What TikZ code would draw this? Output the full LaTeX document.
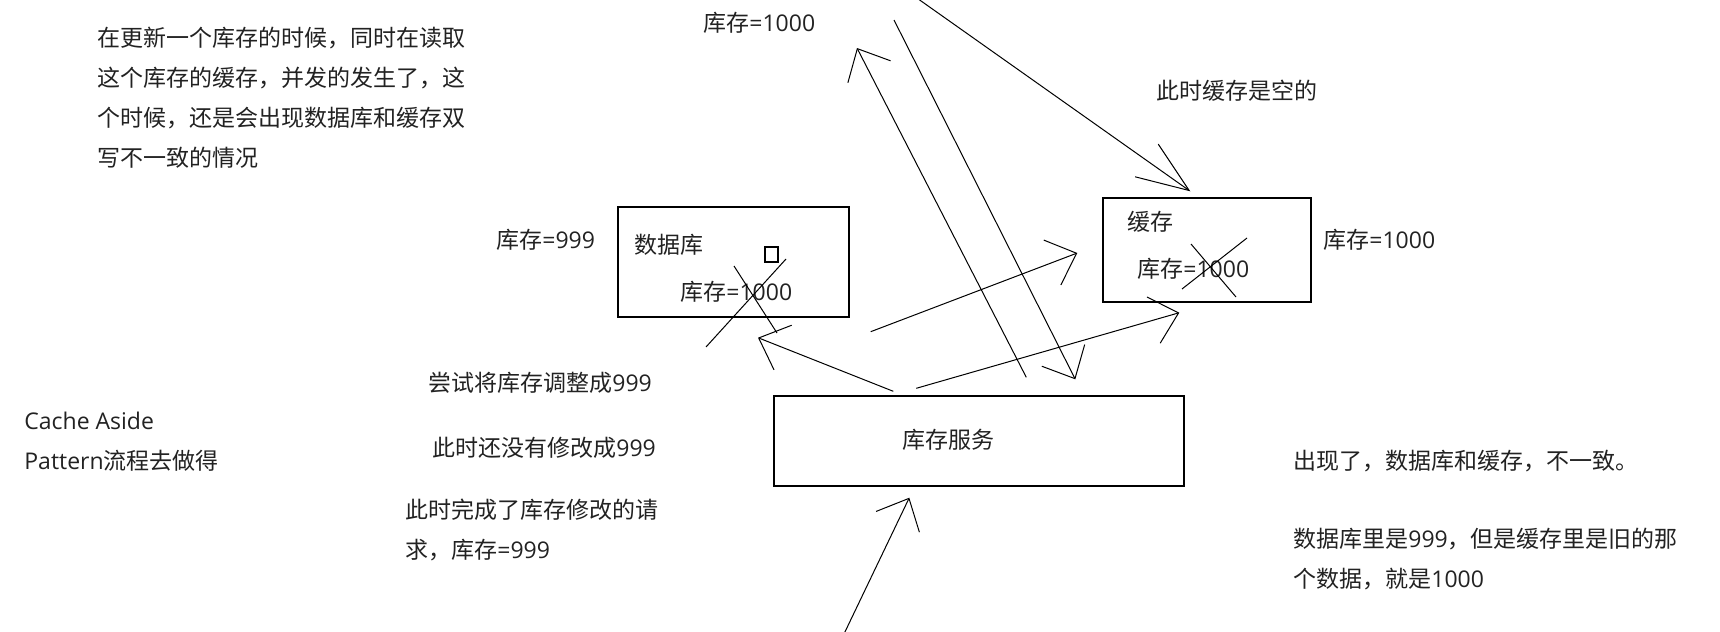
\documentclass[tikz,border=0pt]{standalone}
\usepackage{fontspec}
\setmainfont{Noto Sans CJK SC}
\newfontfamily\lat{Open Sans}
\usepackage{tikz}
\usetikzlibrary{arrows.meta, calc}
\definecolor{ink}{HTML}{222222}
\tikzset{
	storebox/.style={draw, line width=0.7pt, inner sep=0pt},
	notetext/.style={anchor=west, align=left, inner sep=0pt, font=\fontsize{11.5}{20}\selectfont, text=ink},
	flowarr/.style={-{Straight Barb[length=13pt, width=24pt]}, line width=0.5pt},
	longhead/.style={-{Straight Barb[length=26pt, width=20pt]}},
	strike/.style={line width=0.5pt},
}

\begin{document}
\begin{tikzpicture}[x=0.5pt, y=-0.5pt]
	\useasboundingbox (0,0) rectangle (1720,632);
	% boxes
	\node[storebox, minimum width=115.5pt, minimum height=55pt] (db) at (733.5,262) {};
	\node[storebox, minimum width=104pt, minimum height=52pt] (cache) at (1207,250) {};
	\node[storebox, minimum width=205pt, minimum height=45pt] (svc) at (979,441) {};
	% texts
	\node[notetext] (intro) at (97,97.5) {在更新一个库存的时候，同时在读取\\这个库存的缓存，并发的发生了，这\\个时候，还是会出现数据库和缓存双\\写不一致的情况};
	\node[notetext] (topval) at (703,23) {库存{\lat =1000}};
	\node[notetext] (empty) at (1156,91) {此时缓存是空的};
	\node[notetext] (dbval) at (496,240) {库存{\lat =999}};
	\node[notetext] (dblabel) at (634,245) {数据库};
	\node[notetext] (dbold) at (680,292) {库存{\lat =1000}};
	\node[notetext] (cachelabel) at (1127,222) {缓存};
	\node[notetext] (cacheold) at (1137,269) {库存{\lat =1000}};
	\node[notetext] (cacheval) at (1323,240) {库存{\lat =1000}};
	\node[notetext] (svclabel) at (902,440) {库存服务};
	\node[notetext] (try) at (428,383) {尝试将库存调整成{\lat 999}};
	\node[notetext] (notyet) at (432,448) {此时还没有修改成{\lat 999}};
	\node[notetext] (done) at (405,529.5) {此时完成了库存修改的请\\求，库存{\lat =999}};
	\node[notetext] (pattern) at (24,442) {{\lat Cache Aside}\\{\lat Pattern}流程去做得};
	\node[notetext] (result) at (1293,461) {出现了，数据库和缓存，不一致。};
	\node[notetext] (reason) at (1293,559) {数据库里是{\lat 999}，但是缓存里是旧的那\\个数据，就是{\lat 1000}};
	% struck-out values
	\draw[line width=0.6pt] (765,247) rectangle (778,262);
	\draw[strike] (734,266) -- (777,333);
	\draw[strike] (786,259) -- (706,347);
	\draw[strike] (1191,244) -- (1236,297);
	\draw[strike] (1247,238) -- (1182,289);
	% requests
	\coordinate (topin) at (914,-4);
	\coordinate (botin) at (843,636);
	\coordinate (uptip) at (857,48);
	\coordinate (downtail) at (894,20);
	\draw[flowarr, longhead] (topin) -- ($(cache.north west)+(88,-6)$);
	\draw[flowarr] ($(svc.north west)+(253,-18)$) -- (uptip);
	\draw[flowarr] (downtail) -- ($(svc.north west)+(302,-16)$);
	\draw[flowarr] ($(db.south east)+(21,14)$) -- ($(cache.west)+(-25,3)$);
	\draw[flowarr] ($(svc.north west)+(143,-7)$) -- ($(cache.south west)+(77,10)$);
	\draw[flowarr] ($(svc.north west)+(120,-4)$) -- ($(db.south)+(24.5,20)$);
	\draw[flowarr] (botin) -- ($(svc.south west)+(136,11)$);
\end{tikzpicture}
\end{document}
